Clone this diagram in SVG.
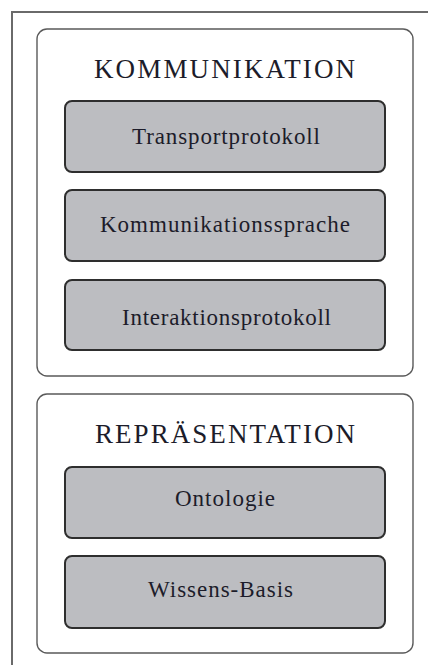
<svg xmlns="http://www.w3.org/2000/svg" width="428" height="665" viewBox="0 0 428 665">
  <style>
    .frame { fill: none; stroke: #6a6a6a; stroke-width: 2; }
    .group { fill: #ffffff; stroke: #5a5a5a; stroke-width: 1.4; }
    .layer { fill: #bcbdc1; stroke: #2e2e2e; stroke-width: 2; }
    .title { font-family: "Liberation Serif", "Times New Roman", serif; font-size: 27px; fill: #1c1c2a; }
    .label { font-family: "Liberation Serif", "Times New Roman", serif; font-size: 23px; fill: #1c1c2a; }
  </style>

  <!-- page frame -->
  <path class="frame" d="M12 665 V12 H428"/>

  <!-- communication stack -->
  <g id="kommunikation">
    <rect class="group" x="37" y="29" width="376" height="347" rx="10"/>
    <text class="title" x="94" y="78" textLength="261" lengthAdjust="spacing">KOMMUNIKATION</text>
  </g>
  <g id="transportprotokoll">
    <rect class="layer" x="65" y="101" width="320" height="71" rx="7"/>
    <text class="label" x="132" y="144" textLength="188" lengthAdjust="spacing">Transportprotokoll</text>
  </g>
  <g id="kommunikationssprache">
    <rect class="layer" x="65" y="190" width="320" height="71" rx="7"/>
    <text class="label" x="100" y="232" textLength="250" lengthAdjust="spacing">Kommunikationssprache</text>
  </g>
  <g id="interaktionsprotokoll">
    <rect class="layer" x="65" y="280" width="320" height="70" rx="7"/>
    <text class="label" x="122" y="325" textLength="209" lengthAdjust="spacing">Interaktionsprotokoll</text>
  </g>

  <!-- representation stack -->
  <g id="repraesentation">
    <rect class="group" x="37" y="394" width="376" height="259" rx="10"/>
    <text class="title" x="95" y="443" textLength="260" lengthAdjust="spacing">REPRÄSENTATION</text>
  </g>
  <g id="ontologie">
    <rect class="layer" x="65" y="467" width="320" height="71" rx="7"/>
    <text class="label" x="175" y="506" textLength="100" lengthAdjust="spacing">Ontologie</text>
  </g>
  <g id="wissens-basis">
    <rect class="layer" x="65" y="556" width="320" height="72" rx="7"/>
    <text class="label" x="148" y="597" textLength="145" lengthAdjust="spacing">Wissens-Basis</text>
  </g>

  <g id="connectors"/>
</svg>
